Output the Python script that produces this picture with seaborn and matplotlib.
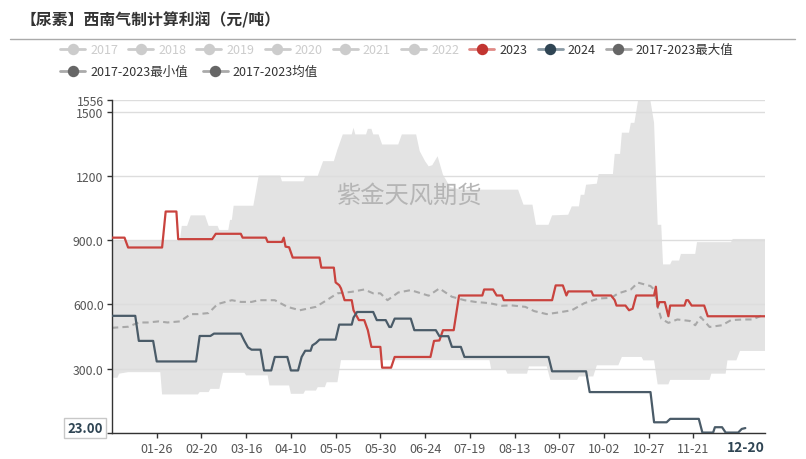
import matplotlib
matplotlib.use("Agg")
import matplotlib.dates as mdates
import matplotlib.pyplot as plt
import matplotlib.transforms as mtransforms
import numpy as np
import pandas as pd
import seaborn as sns
from matplotlib.lines import Line2D

# ---------------------------------------------------------------------------
# Données (axe des dates ramené à l'année 2024)
# ---------------------------------------------------------------------------
ANNEE = "2024"

dates_2023 = ["01-01", "01-08", "01-10", "01-29", "01-31", "02-06", "02-07", "02-26", "02-28",
              "03-13", "03-14", "03-27", "03-28", "04-05", "04-06", "04-07", "04-09", "04-11",
              "04-26", "04-27", "05-04", "05-05", "05-07", "05-08", "05-10", "05-14", "05-15",
              "05-18", "05-21", "05-23", "05-25", "05-30", "05-31", "06-05", "06-07", "06-27",
              "06-29", "07-02", "07-04", "07-10", "07-13", "07-26", "07-27", "08-01", "08-03",
              "08-06", "08-07", "09-03", "09-05", "09-09", "09-11", "09-12", "09-25", "09-26",
              "10-06", "10-08", "10-09", "10-14", "10-16", "10-18", "10-20", "10-30", "10-31",
              "11-01", "11-02", "11-05", "11-07", "11-08", "11-16", "11-17", "11-18", "11-20",
              "11-27", "11-29", "12-31"]
vals_2023 = [912, 912, 866, 866, 1034, 1034, 905, 905, 930,
             930, 912, 912, 892, 892, 912, 870, 867, 819,
             819, 772, 772, 703, 690, 675, 620, 620, 573,
             527, 527, 480, 402, 402, 305, 305, 355, 355,
             430, 432, 480, 480, 642, 642, 670, 670, 642,
             642, 620, 620, 689, 689, 642, 661, 661, 642,
             642, 620, 595, 595, 573, 580, 642, 642, 683,
             589, 611, 611, 545, 595, 595, 620, 620, 595,
             595, 545, 545]

dates_2024 = ["01-01", "01-14", "01-16", "01-24", "01-26", "02-17", "02-19", "02-25", "02-27",
              "03-13", "03-15", "03-17", "03-19", "03-24", "03-26", "03-30", "04-01", "04-08",
              "04-10", "04-14", "04-16", "04-18", "04-21", "04-22", "04-24", "04-26", "05-05",
              "05-07", "05-14", "05-15", "05-17", "05-26", "05-28", "06-02", "06-04", "06-05",
              "06-07", "06-16", "06-18", "06-30", "07-02", "07-07", "07-09", "07-14", "07-16",
              "09-01", "09-03", "09-22", "09-24", "10-28", "10-30", "11-06", "11-08", "11-24",
              "11-26", "12-02", "12-03", "12-07", "12-09", "12-16", "12-18", "12-20"]
vals_2024 = [547, 547, 430, 430, 334, 334, 453, 453, 464,
             464, 430, 400, 389, 389, 292, 292, 355, 355,
             292, 292, 355, 384, 384, 409, 420, 436, 436,
             506, 506, 539, 565, 565, 527, 527, 495, 495,
             534, 534, 480, 480, 452, 452, 402, 402, 355,
             355, 288, 288, 191, 191, 50, 50, 66, 66,
             2, 2, 27, 27, 2, 2, 19, 23]

dates_moy = ["01-01", "01-10", "01-16", "01-21", "01-27", "02-01", "02-08", "02-14", "02-18",
             "02-24", "02-29", "03-08", "03-13", "03-19", "03-23", "04-01", "04-08", "04-15",
             "04-24", "04-30", "05-06", "05-14", "05-21", "05-26", "05-30", "06-03", "06-09",
             "06-16", "06-26", "07-02", "07-09", "07-16", "07-22", "07-30", "08-06", "08-11",
             "08-19", "08-24", "08-31", "09-06", "09-14", "09-21", "09-29", "10-06", "10-10",
             "10-17", "10-21", "10-28", "10-30", "11-01", "11-03", "11-07", "11-12", "11-19",
             "11-22", "11-25", "11-30", "12-07", "12-12", "12-19", "12-24", "12-31"]
vals_moy = [491, 496, 516, 516, 521, 516, 521, 555, 555,
            560, 602, 620, 612, 612, 620, 620, 589, 573,
            589, 620, 652, 659, 670, 652, 652, 620, 656,
            667, 641, 675, 636, 620, 612, 606, 594, 596,
            589, 569, 555, 562, 573, 606, 628, 631, 652,
            670, 702, 686, 670, 589, 534, 514, 530, 523,
            503, 542, 495, 503, 527, 530, 530, 555]

dates_max = ["01-01", "02-08", "02-09", "02-12", "02-14", "02-22", "02-24", "02-29", "03-01",
             "03-06", "03-07", "03-08", "03-09", "03-20", "03-23", "04-04", "04-05", "04-17",
             "04-18", "04-25", "04-28", "05-04", "05-06", "05-09", "05-14", "05-15", "05-16",
             "05-22", "05-23", "05-25", "05-26", "05-29", "05-31", "06-09", "06-11", "06-19",
             "06-21", "06-24", "06-26", "06-28", "07-01", "07-04", "07-08", "07-14", "08-15",
             "08-18", "08-23", "08-25", "09-01", "09-03", "09-12", "09-14", "09-18", "09-19",
             "09-21", "09-22", "09-28", "09-29", "10-07", "10-08", "10-11", "10-12", "10-16",
             "10-17", "10-19", "10-21", "10-28", "10-30", "11-01", "11-03", "11-04", "11-08",
             "11-09", "11-13", "11-14", "11-22", "11-23", "12-12", "12-13", "12-31"]
vals_max = [900, 900, 967, 967, 1016, 1016, 967, 967, 948,
            948, 995, 995, 1061, 1061, 1202, 1202, 1175, 1175,
            1200, 1200, 1269, 1269, 1323, 1394, 1394, 1425, 1394,
            1394, 1420, 1420, 1394, 1394, 1347, 1347, 1394, 1394,
            1316, 1269, 1245, 1250, 1292, 1206, 1148, 1136, 1136,
            1066, 1066, 972, 972, 1016, 1019, 1058, 1058, 1112,
            1112, 1159, 1164, 1209, 1209, 1303, 1303, 1402, 1402,
            1448, 1448, 1550, 1550, 1448, 972, 972, 787, 787,
            805, 805, 836, 836, 891, 891, 906, 906]

dates_min = ["01-01", "01-04", "01-05", "01-10", "01-28", "01-29", "02-18", "02-19", "02-24",
             "02-25", "03-01", "03-03", "03-15", "03-16", "03-28", "03-29", "04-09", "04-10",
             "04-17", "04-18", "04-24", "04-25", "04-29", "04-30", "05-06", "05-08", "07-30",
             "07-31", "08-08", "08-09", "08-20", "08-21", "08-31", "09-02", "09-17", "09-18",
             "09-26", "09-28", "10-10", "10-12", "10-23", "10-24", "10-30", "11-01", "11-07",
             "11-08", "11-30", "12-01", "12-09", "12-10", "12-15", "12-17", "12-31"]
vals_min = [258, 258, 277, 284, 284, 180, 180, 191, 191,
            206, 206, 281, 281, 269, 269, 222, 222, 183,
            183, 198, 198, 214, 214, 237, 237, 340, 340,
            295, 295, 277, 277, 311, 311, 248, 248, 264,
            264, 316, 316, 355, 355, 339, 339, 227, 227,
            248, 248, 277, 277, 339, 339, 383, 383]

y_ticks = [0, 300, 600, 900, 1200, 1500, 1556]
y_tick_labels = ["0.000", "300.0", "600.0", "900.0", "1200", "1500", "1556"]

labels_ligne1 = ["2017", "2018", "2019", "2020", "2021", "2022", "2023", "2024", "2017-2023最大值"]
labels_ligne2 = ["2017-2023最小值", "2017-2023均值"]

titre = "【尿素】西南气制计算利润（元/吨）"
filigrane = "紫金天风期货"
dernier_jour = "12-20"
derniere_valeur = 23.00

ROUGE = "#c23531"
ARDOISE = "#2f4554"
GRIS = "#666666"
GRIS_OFF = "#cccccc"


def en_dates(jours):
    return pd.to_datetime([f"{ANNEE}-{j}" for j in jours])


# ---------------------------------------------------------------------------
# Figure
# ---------------------------------------------------------------------------
sns.set_theme(style="white")
plt.rcParams["font.family"] = ["Noto Sans CJK SC", "DejaVu Sans"]
plt.rcParams["axes.unicode_minus"] = False

W, H = 806, 460
fig = plt.figure(figsize=(W / 100, H / 100), dpi=100)
ax = fig.add_axes([112 / W, 1 - 434 / H, (765 - 112) / W, (434 - 100.7) / H])

# bande min / max
x_max = mdates.date2num(en_dates(dates_max))
x_min = mdates.date2num(en_dates(dates_min))
ax.fill(np.concatenate([x_max, x_min[::-1]]),
        np.concatenate([vals_max, vals_min[::-1]]),
        color="#e3e3e3", lw=0, zorder=0.2)

sns.lineplot(x=en_dates(dates_moy), y=vals_moy, ax=ax, color="#a8a8a8",
             lw=1.5, linestyle=(0, (3, 2)), estimator=None, zorder=2)
sns.lineplot(x=en_dates(dates_2023), y=vals_2023, ax=ax, color="#c9433e",
             lw=1.6, estimator=None, zorder=3)
sns.lineplot(x=en_dates(dates_2024), y=vals_2024, ax=ax, color="#4a5b68",
             lw=1.6, estimator=None, zorder=4)

# axes
ax.set_xlim(pd.Timestamp(f"{ANNEE}-01-01"), pd.Timestamp(f"{ANNEE}-12-31"))
ax.set_ylim(0, 1556)
ax.set_yticks(y_ticks)
ax.set_yticklabels(y_tick_labels)
x_ticks = pd.date_range(f"{ANNEE}-01-26", f"{ANNEE}-11-21", freq="25D")
ax.set_xticks(x_ticks)
ax.set_xticklabels([d.strftime("%m-%d") for d in x_ticks])
ax.set_xlabel("")
ax.set_ylabel("")

ax.grid(axis="y", color="#dddddd", lw=1)
ax.grid(axis="x", visible=False)
for side in ("top", "right"):
    ax.spines[side].set_visible(False)
for side in ("left", "bottom"):
    ax.spines[side].set_color("#333333")
    ax.spines[side].set_linewidth(1)

ax.tick_params(axis="both", which="major", bottom=True, left=True, direction="out",
               length=3.5, width=1, color="#333333", labelcolor="#555555")
ax.tick_params(axis="y", labelsize=8.8, pad=2.5)
ax.tick_params(axis="x", labelsize=9, pad=3)

# étiquettes du pointeur (dernière valeur)
trans_y = mtransforms.blended_transform_factory(ax.transAxes, ax.transData)
ax.text(-0.014, derniere_valeur, f"{derniere_valeur:.2f}", transform=trans_y,
        ha="right", va="center", fontsize=9.5, fontweight="bold", color=ARDOISE,
        bbox=dict(boxstyle="square,pad=0.25", fc="white", ec="#c8c8c8", lw=1),
        zorder=10, clip_on=False)
trans_x = mtransforms.blended_transform_factory(ax.transData, ax.transAxes)
ax.text(pd.Timestamp(f"{ANNEE}-{dernier_jour}"), -0.042, dernier_jour, transform=trans_x,
        ha="center", va="center", fontsize=10, fontweight="bold", color=ARDOISE,
        clip_on=False)

# filigrane
ax.text(0.455, 0.715, filigrane, transform=ax.transAxes, ha="center", va="center",
        fontsize=17.5, color="#b5b5b5", zorder=1)

# titre + filet
fig.text(21 / W, 1 - 20 / H, titre, ha="left", va="center", fontsize=11.4,
         fontweight="bold", color="#333333")
fig.add_artist(Line2D([10 / W, 795 / W], [1 - 40 / H] * 2, color="#aaaaaa", lw=1,
                      transform=fig.transFigure))


# légende sur deux lignes
def poignee(couleur_ligne, couleur_point):
    return Line2D([], [], color=couleur_ligne, lw=2, marker="o", markersize=7.2,
                  markerfacecolor=couleur_point, markeredgecolor=couleur_point)


poignees1 = [poignee(GRIS_OFF, GRIS_OFF) for _ in range(6)] + [
    poignee("#e08a86", ROUGE), poignee("#8a9aa5", ARDOISE), poignee("#aaaaaa", GRIS)]
poignees2 = [poignee("#aaaaaa", GRIS), poignee("#aaaaaa", GRIS)]

leg_kw = dict(loc="center left", frameon=False, fontsize=9, handlelength=2.0,
              handletextpad=0.4, borderpad=0, borderaxespad=0, numpoints=1)
leg1 = fig.legend(poignees1, labels_ligne1, ncol=9, columnspacing=0.82,
                  bbox_to_anchor=(60 / W, 1 - 50.7 / H), **leg_kw)
for i, t in enumerate(leg1.get_texts()):
    t.set_color(GRIS_OFF if i < 6 else "#333333")
leg2 = fig.legend(poignees2, labels_ligne2, ncol=2, columnspacing=1.2,
                  bbox_to_anchor=(60 / W, 1 - 72.7 / H), **leg_kw)
for t in leg2.get_texts():
    t.set_color("#333333")

fig.savefig("out.png", dpi=100, facecolor="white")
